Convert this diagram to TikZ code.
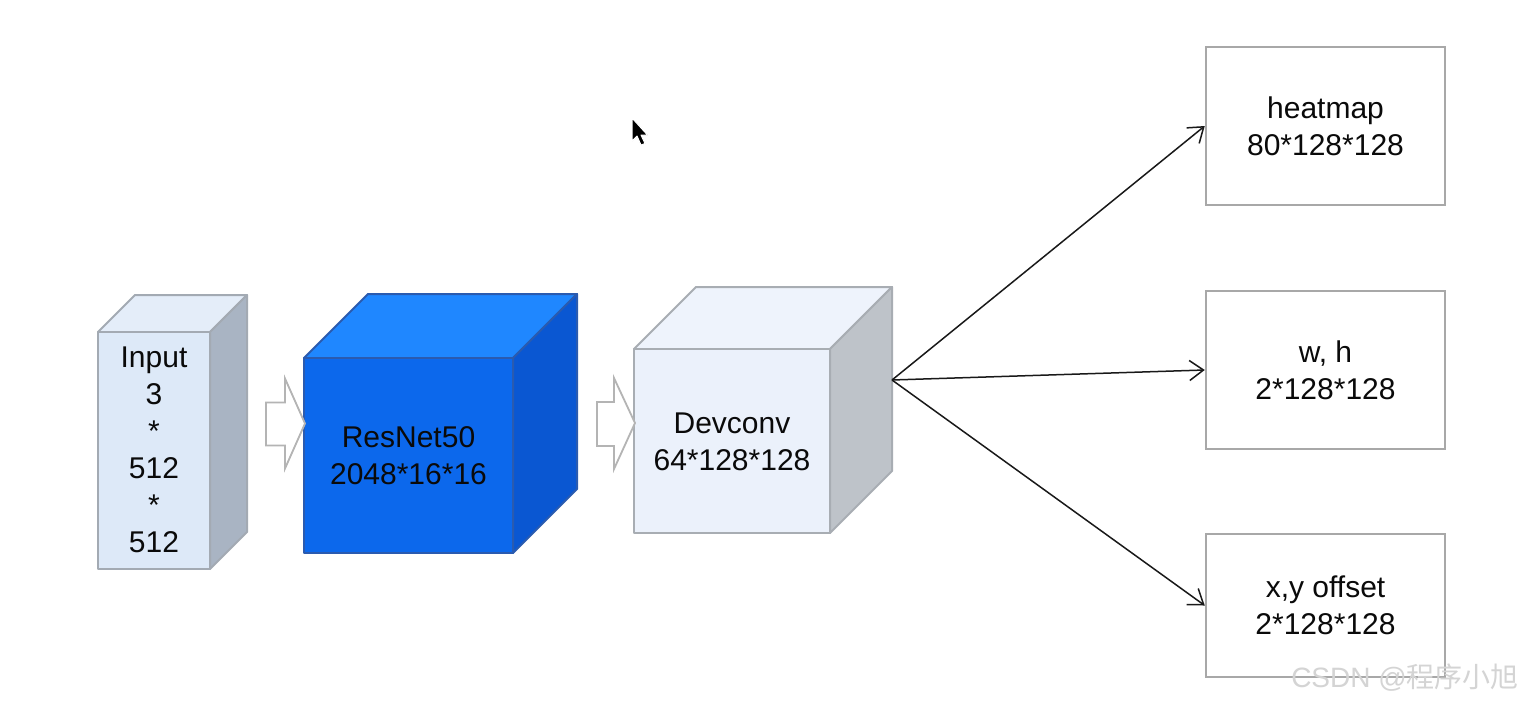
\documentclass[tikz,border=0pt]{standalone}
\usepackage{fontspec}
\setmainfont{Liberation Sans}
\newfontfamily\cjkfont{Noto Sans CJK SC}
\usetikzlibrary{arrows.meta,calc}
\definecolor{inpFront}{HTML}{DDE9F8}
\definecolor{inpTop}{HTML}{E4EDF9}
\definecolor{inpSide}{HTML}{A9B4C3}
\definecolor{inpEdge}{HTML}{A3AAB3}
\definecolor{resFront}{HTML}{0C68EC}
\definecolor{resTop}{HTML}{1F87FF}
\definecolor{resSide}{HTML}{0A57D2}
\definecolor{resEdge}{HTML}{2A5BB0}
\definecolor{devFront}{HTML}{EBF1FB}
\definecolor{devTop}{HTML}{EEF3FC}
\definecolor{devSide}{HTML}{BEC3C9}
\definecolor{devEdge}{HTML}{A8ADB3}
\definecolor{boxEdge}{HTML}{A8A8A8}
\definecolor{arrEdge}{HTML}{B4B4B4}
\definecolor{wmColor}{HTML}{D4D4D4}
\definecolor{txt}{HTML}{0A0A0A}
% #1 name, #2 x1, #3 y1, #4 x2, #5 y2, #6 depth, #7 colour prefix
\newcommand{\drawcube}[7]{%
  \draw[line width=2pt, draw=#7Edge, fill=#7Top, line join=round]
    (#2,#3) -- (#2+#6,#3-#6) -- (#4+#6,#3-#6) -- (#4,#3) -- cycle;
  \draw[line width=2pt, draw=#7Edge, fill=#7Side, line join=round]
    (#4,#3) -- (#4+#6,#3-#6) -- (#4+#6,#5-#6) -- (#4,#5) -- cycle;
  \draw[line width=2pt, draw=#7Edge, fill=#7Front, line join=round]
    (#2,#3) rectangle (#4,#5);
  \coordinate (#1-w) at (#2,{(#3+#5)/2});
  \coordinate (#1-e) at (#4,{(#3+#5)/2});
}
\tikzset{
  lbl/.style={align=center, text=txt, inner sep=0pt,
    font=\fontsize{30}{37}\selectfont},
  outbox/.style={draw=boxEdge, line width=2.5pt, fill=white,
    minimum width=239pt, align=center, inner sep=0pt, text=txt,
    font=\fontsize{30}{37}\selectfont},
  blockarrow/.style={draw=arrEdge, line width=1.8pt, fill=white, line join=miter},
  conn/.style={draw=black!90, line width=1.5pt,
    -{Straight Barb[length=14pt,width=20pt,line width=1.5pt]}},
}
\begin{document}
\begin{tikzpicture}[x=1pt,y=-1pt]
\useasboundingbox[fill=white] (0,0) rectangle (1523,704);

% cubes
\drawcube{inp}{98}{332}{210}{569}{37}{inp}
\drawcube{res}{304}{358}{513}{553}{64}{res}
\drawcube{dev}{634}{349}{830}{533}{62}{dev}

\node[lbl] (inptext) at (154,450) {Input\\3\\*\\512\\*\\512};
\node[lbl] (restext) at (408.5,456) {ResNet50\\2048*16*16};
\node[lbl] (devtext) at (732,442) {Devconv\\64*128*128};

% block arrows
\coordinate (tipA) at ($(res-w)+(1,-32)$);
\draw[blockarrow] (tipA) -- ++(-20,-45) -- ++(0,24) -- ++(-19,0) -- ++(0,43)
  -- ++(19,0) -- ++(0,23) -- cycle;
\coordinate (tipB) at ($(dev-w)+(1,-18)$);
\draw[blockarrow] (tipB) -- ++(-21,-45) -- ++(0,24) -- ++(-17,0) -- ++(0,44)
  -- ++(17,0) -- ++(0,23) -- cycle;

% output boxes
\node[outbox, minimum height=158pt] (hm) at (1325.5,126) {heatmap\\80*128*128};
\node[outbox, minimum height=158pt] (wh) at (1325.5,370) {w, h\\2*128*128};
\node[outbox, minimum height=143pt] (off) at (1325.5,605.5) {x,y offset\\2*128*128};

% connectors
\coordinate (split) at (892,380);
\draw[conn] (split) -- (hm.west);
\draw[conn] (split) -- (wh.west);
\draw[conn] (split) -- (off.west);

% cursor
\filldraw[fill=black, draw=white, line width=1pt, line join=round]
  (632,118) -- (632,141) -- (637,136) -- (641,145) -- (645,143.5)
  -- (641,135) -- (647.5,135) -- cycle;

% watermark
\node[anchor=base east, inner sep=0pt, text=wmColor,
  font=\fontsize{28}{32}\selectfont] (wm) at (1519,687)
  {CSDN @{\cjkfont 程序小旭}};
\end{tikzpicture}
\end{document}
